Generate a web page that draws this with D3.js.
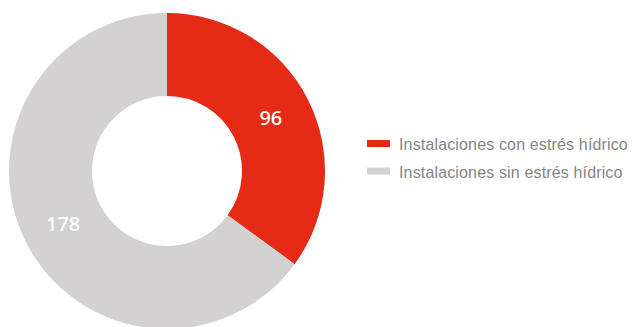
<!DOCTYPE html>
<html>
<head>
<meta charset="utf-8">
<script src="https://cdn.jsdelivr.net/npm/d3@7"></script>
<style>
  body { margin: 0; background: #fff; }
</style>
</head>
<body>
<div id="chart"></div>
<script>
// Data
const categories = ['Instalaciones con estrés hídrico', 'Instalaciones sin estrés hídrico'];
const values = [96, 178];
const colors = ['#e52a16', '#d3d1d2'];

const width = 635, height = 327;
const cx = 167, cy = 171;
const outerR = 158, innerR = 75;

const svg = d3.select('#chart')
    .append('svg')
    .attr('width', width)
    .attr('height', height);

const data = categories.map((c, i) => ({ name: c, value: values[i], color: colors[i] }));

const pie = d3.pie()
    .value(d => d.value)
    .sort(null);

const arc = d3.arc()
    .innerRadius(innerR)
    .outerRadius(outerR);

const g = svg.append('g')
    .attr('transform', `translate(${cx},${cy})`);

const arcs = pie(data);

g.selectAll('path')
    .data(arcs)
    .join('path')
    .attr('d', arc)
    .attr('fill', d => d.data.color);

// Value labels at slice centroids
g.selectAll('text')
    .data(arcs)
    .join('text')
    .attr('transform', d => `translate(${arc.centroid(d)})`)
    .attr('text-anchor', 'middle')
    .attr('dy', '0.36em')
    .attr('fill', '#fff')
    .style('font-family', '"Noto Sans", sans-serif')
    .style('font-weight', 500)
    .style('font-size', '20px')
    .text(d => d.data.value);

// Legend
const legend = svg.append('g')
    .attr('transform', 'translate(367,143.5)');

const rows = legend.selectAll('g')
    .data(data)
    .join('g')
    .attr('transform', (d, i) => `translate(0,${i * 27.5})`);

rows.append('rect')
    .attr('x', 0)
    .attr('y', -3.5)
    .attr('width', 23)
    .attr('height', 7)
    .attr('fill', d => d.color);

rows.append('text')
    .attr('x', 32)
    .attr('y', 6.5)
    .attr('fill', '#858585')
    .style('font-family', '"Liberation Sans", Arial, sans-serif')
    .style('font-size', '16px')
    .style('letter-spacing', '0.15px')
    .text(d => d.name);
</script>
</body>
</html>
